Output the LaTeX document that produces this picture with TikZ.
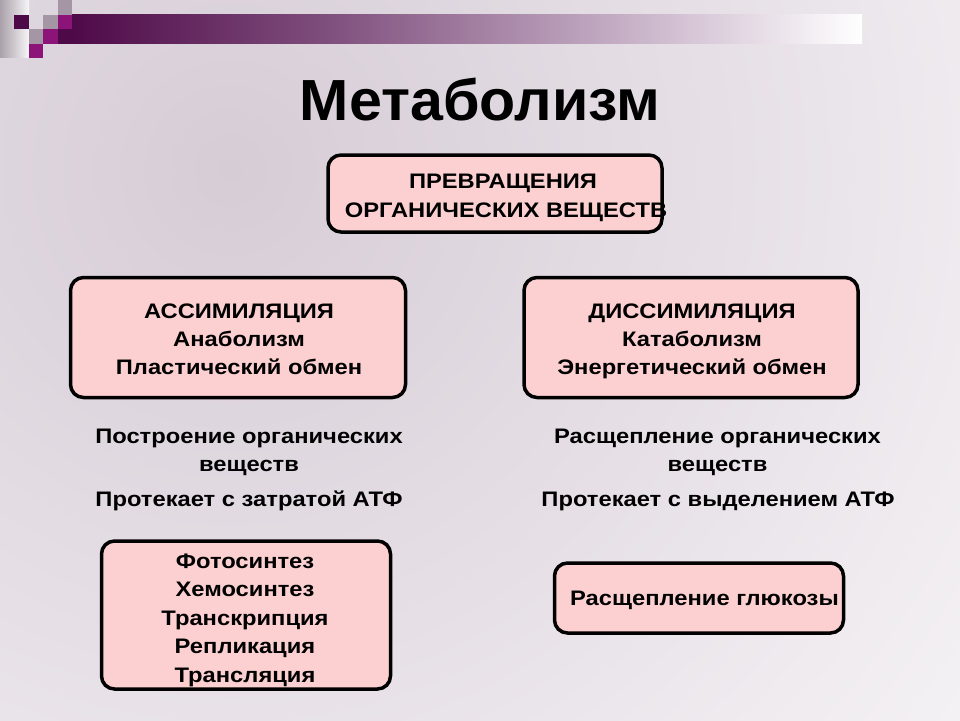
\documentclass[tikz,border=0pt]{standalone}
\usepackage{fontspec}
\usepackage{graphicx}
\setmainfont{Liberation Sans}
\definecolor{boxpink}{RGB}{252,208,208}
\definecolor{bglav}{RGB}{214,204,214}
\definecolor{darkpur}{RGB}{78,10,72}
\definecolor{midpur}{RGB}{128,80,126}
\definecolor{lightpur}{RGB}{190,165,190}
\definecolor{magpur}{RGB}{140,20,120}
\definecolor{graypur}{RGB}{165,150,165}
\definecolor{stripgray}{RGB}{170,160,170}
\pgfdeclarehorizontalshading{barshade}{100bp}{color(0bp)=(darkpur); color(25bp)=(darkpur); color(41.5bp)=(midpur); color(57.9bp)=(lightpur); color(75bp)=(white); color(100bp)=(white)}
\newcommand{\wtxt}[1]{\scalebox{1.13}[1]{#1}}
\tikzset{
  box/.style={draw=black, line width=3.5pt, fill=boxpink, rounded corners=13pt, inner sep=0pt},
  txt/.style={font=\fontsize{21}{25}\selectfont\bfseries, inner sep=0pt, anchor=base},
  title/.style={font=\fontsize{58}{62}\selectfont\bfseries, inner sep=0pt, anchor=base},
  sq/.style={inner sep=0pt, minimum size=14.5pt, anchor=north west}
}
\begin{document}
\begin{tikzpicture}[x=1pt,y=-1pt]
\useasboundingbox (0,0) rectangle (960,720);
% background
\begin{scope}
  \clip (0,0) rectangle (960,720);
  \fill[white] (0,0) rectangle (960,720);
  \shade[inner color=bglav, outer color=white] (230,170) circle (1250);
  % left strip
  \shade[left color=stripgray, right color=white!90!stripgray] (0,0) rectangle (29,57);
  % top bar
  \shade[shading=barshade] (72,14.5) rectangle (862,43);
\end{scope}
% squares
\node[sq, fill=graypur]  (s1) at (57.5,0) {};
\node[sq, fill=graypur]  (s2) at (43,14.5) {};
\node[sq, fill=magpur]   (s3) at (57.5,14.5) {};
\node[sq, fill=darkpur]  (s4) at (14,14.5) {};
\node[sq, fill=graypur]  (s5) at (28.5,29) {};
\node[sq, fill=magpur]   (s6) at (43,29) {};
\node[sq, fill=darkpur]  (s7) at (57.5,29) {};
\node[sq, fill=magpur]   (s8) at (28.5,43.5) {};
% title
\node[title] (t) at (480,120) {\scalebox{1.02}[1]{Метаболизм}};
% boxes
\node[box, minimum width=334pt, minimum height=77pt] (top) at (495,193.5) {};
\node[box, minimum width=335pt, minimum height=120pt] (left) at (238,337.5) {};
\node[box, minimum width=334pt, minimum height=120pt] (right) at (691,337.5) {};
\node[box, minimum width=289pt, minimum height=148pt] (bl) at (246,615) {};
\node[box, minimum width=289pt, minimum height=70pt] (br) at (699,598) {};
% top box text
\node[txt] (top1) at (503,188) {\wtxt{ПРЕВРАЩЕНИЯ}};
\node[txt] (top2) at (506,217) {\wtxt{ОРГАНИЧЕСКИХ ВЕЩЕСТВ}};
% left box text
\node[txt] (l1) at (239,318) {\wtxt{АССИМИЛЯЦИЯ}};
\node[txt] (l2) at (239,346) {\wtxt{Анаболизм}};
\node[txt] (l3) at (239,374) {\wtxt{Пластический обмен}};
% right box text
\node[txt] (r1) at (692,318) {\wtxt{ДИССИМИЛЯЦИЯ}};
\node[txt] (r2) at (692,346) {\wtxt{Катаболизм}};
\node[txt] (r3) at (692,374) {\wtxt{Энергетический обмен}};
% plain texts
\node[txt] (p1) at (249,443) {\wtxt{Построение органических}};
\node[txt] (p2) at (249,471) {\wtxt{веществ}};
\node[txt] (p3) at (249,506) {\wtxt{Протекает с затратой АТФ}};
\node[txt] (q1) at (717.5,443) {\wtxt{Расщепление органических}};
\node[txt] (q2) at (717.5,471) {\wtxt{веществ}};
\node[txt] (q3) at (718,506) {\wtxt{Протекает с выделением АТФ}};
% bottom left
\node[txt] (b1) at (245,568) {\wtxt{Фотосинтез}};
\node[txt] (b2) at (245,596.5) {\wtxt{Хемосинтез}};
\node[txt] (b3) at (245,625) {\wtxt{Транскрипция}};
\node[txt] (b4) at (245,653.5) {\wtxt{Репликация}};
\node[txt] (b5) at (245,682) {\wtxt{Трансляция}};
% bottom right
\node[txt] (g1) at (704.5,605) {\wtxt{Расщепление глюкозы}};
\end{tikzpicture}
\end{document}
